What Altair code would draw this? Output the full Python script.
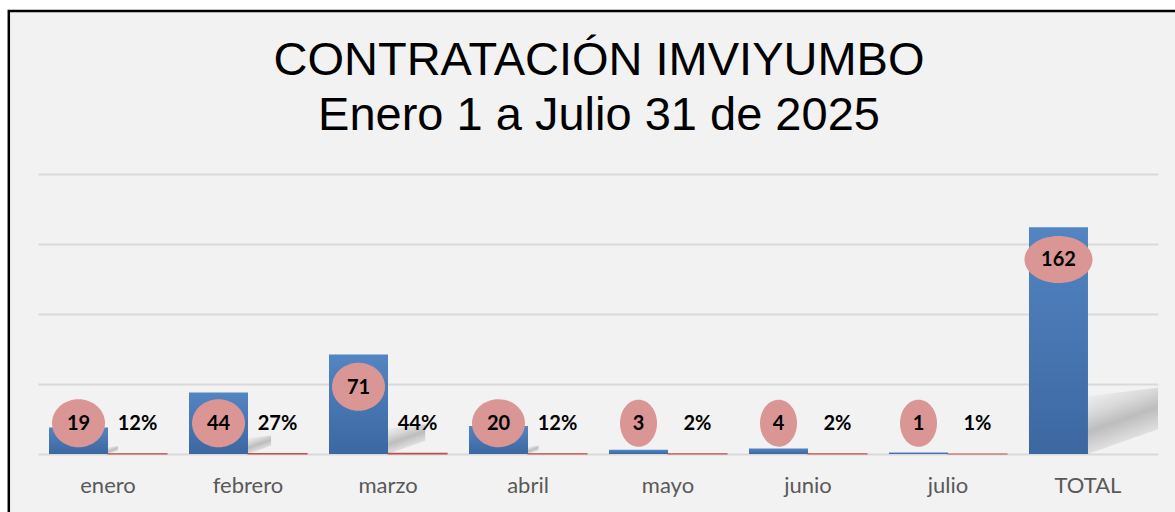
import altair as alt
import pandas as pd

# ---- data ----
categories = ["enero", "febrero", "marzo", "abril", "mayo", "junio", "julio", "TOTAL"]
counts = [19, 44, 71, 20, 3, 4, 1, 162]
pct_categories = ["enero", "febrero", "marzo", "abril", "mayo", "junio", "julio"]
pcts = [0.12, 0.27, 0.44, 0.12, 0.02, 0.02, 0.01]
series = ["Contratos", "Porcentaje"]
title_lines = ["CONTRATACIÓN IMVIYUMBO", "Enero 1 a Julio 31 de 2025"]
grid_values = [0, 50, 100, 150, 200]

# ---- tables ----
rows = [{"cat": c, "serie": series[0], "valor": v, "digits": str(len(str(v)))}
        for c, v in zip(categories, counts)]
rows += [{"cat": c, "serie": series[1], "valor": p, "digits": "0"}
         for c, p in zip(pct_categories, pcts)]
df = pd.DataFrame(rows)

W, H = 1120, 280
PAD = {"left": 38, "top": 174, "right": 17, "bottom": 58}
LABEL_FLOOR = 22  # lowest label centre (data units) used for small bars
HALF_BAR = 29.5   # half of one bar's pixel width


def ellipse(rx, ry):
    return f"M{-rx},0A{rx},{ry} 0 1,1 {rx},0A{rx},{ry} 0 1,1 {-rx},0Z"


def shadow_path(v):
    # perspective drop shadow, scaled with the bar's value
    s = v / max(counts)
    pts = [(HALF_BAR, 0), (HALF_BAR + 85 * s, -30 * s),
           (HALF_BAR + 85 * s, -68 * s), (HALF_BAR, -58 * s)]
    return "M" + "L".join(f"{x:.2f},{y:.2f}" for x, y in pts) + "Z"


shape_scale = alt.Scale(domain=["1", "2", "3"],
                        range=[ellipse(18.5, 23.5), ellipse(26.5, 24), ellipse(34, 23.5)])
shadow_scale = alt.Scale(domain=categories, range=[shadow_path(v) for v in counts])

x_enc = alt.X("cat:N", sort=categories,
              scale=alt.Scale(paddingInner=0.157, paddingOuter=0.0786),
              axis=alt.Axis(title=None, labelAngle=0, domain=False, ticks=False, tickSize=0,
                            labelPadding=38, labelBaseline="alphabetic",
                            labelFont="Lato", labelFontSize=22, labelColor="#595959"))
xoff_enc = alt.XOffset("serie:N", sort=series,
                       scale=alt.Scale(paddingInner=0, paddingOuter=0))
y_scale = alt.Scale(domain=[0, 200], nice=False, zero=True)
y_axis = alt.Axis(title=None, labels=False, ticks=False, domain=False, grid=True,
                  values=grid_values, gridColor="#d9d9d9", gridWidth=2)

base = alt.Chart(df)
counts_only = base.transform_filter(alt.datum.serie == series[0])

blue_grad = alt.Gradient(gradient="linear",
                         stops=[alt.GradientStop(color="#5385c2", offset=0),
                                alt.GradientStop(color="#3c67a1", offset=1)],
                         x1=0, x2=0, y1=0, y2=1)

shadow_grad = alt.Gradient(gradient="linear",
                           stops=[alt.GradientStop(color="rgba(0,0,0,0)", offset=0),
                                  alt.GradientStop(color="rgba(0,0,0,0.10)", offset=0.3),
                                  alt.GradientStop(color="rgba(0,0,0,0.22)", offset=0.55),
                                  alt.GradientStop(color="rgba(0,0,0,0.10)", offset=0.8),
                                  alt.GradientStop(color="rgba(0,0,0,0)", offset=1)],
                           x1=0.3, y1=-0.05, x2=0.7, y2=0.85)

shadows = counts_only.mark_point(filled=True, size=4, opacity=1, color=shadow_grad,
                                 strokeWidth=0, clip=True).encode(
    x=x_enc, xOffset=xoff_enc,
    y=alt.Y(datum=0, scale=y_scale, axis=y_axis),
    shape=alt.Shape("cat:N", scale=shadow_scale, legend=None),
)

bars_count = counts_only.mark_bar(color=blue_grad).encode(
    x=x_enc, xOffset=xoff_enc,
    y=alt.Y("valor:Q", scale=y_scale, axis=y_axis),
)

bars_pct = base.transform_filter(alt.datum.serie == series[1]).mark_bar(
    color="#c0504d", stroke="#c0504d", strokeWidth=1.2).encode(
    x=x_enc, xOffset=xoff_enc,
    y=alt.Y("valor:Q", scale=y_scale, axis=y_axis),
)

lab_base = counts_only.transform_calculate(pos=f"max(datum.valor - 23, {LABEL_FLOOR})")

ellipses = lab_base.mark_point(filled=True, size=4, opacity=1, color="#da9694",
                               strokeWidth=0).encode(
    x=x_enc, xOffset=xoff_enc,
    y=alt.Y("pos:Q", scale=y_scale, axis=y_axis),
    shape=alt.Shape("digits:N", scale=shape_scale, legend=None),
)

count_text = lab_base.mark_text(font="Lato", fontWeight="bold", fontSize=20,
                                color="black", baseline="middle", dy=1).encode(
    x=x_enc, xOffset=xoff_enc,
    y=alt.Y("pos:Q", scale=y_scale, axis=y_axis),
    text=alt.Text("valor:Q", format="d"),
)

pct_text = base.transform_filter(alt.datum.serie == series[1]).mark_text(
    font="Lato", fontWeight="bold", fontSize=20, color="black",
    baseline="middle", dy=1).encode(
    x=x_enc, xOffset=xoff_enc,
    y=alt.Y(datum=LABEL_FLOOR, scale=y_scale, axis=y_axis),
    text=alt.Text("valor:Q", format=".0%"),
)

frame_df = pd.DataFrame({"k": [0]})
white_left = alt.Chart(frame_df).mark_rect(color="white").encode(
    x=alt.value(-PAD["left"] - 2), x2=alt.value(-29.2),
    y=alt.value(-PAD["top"] - 2), y2=alt.value(H + PAD["bottom"] + 2))
white_top = alt.Chart(frame_df).mark_rect(color="white").encode(
    x=alt.value(-PAD["left"] - 2), x2=alt.value(W + PAD["right"] + 2),
    y=alt.value(-PAD["top"] - 2), y2=alt.value(-163))
border = alt.Chart(frame_df).mark_rect(fill="transparent", stroke="black",
                                       strokeWidth=2.5).encode(
    x=alt.value(-29.2), x2=alt.value(W + PAD["right"] + 20),
    y=alt.value(-163), y2=alt.value(H + PAD["bottom"] + 20))

title1 = alt.Chart(frame_df).mark_text(
    text=title_lines[0], font="Liberation Sans", fontSize=47, color="black",
    align="center", baseline="alphabetic").encode(x=alt.value(W / 2 + 1), y=alt.value(-99))
title2 = alt.Chart(frame_df).mark_text(
    text=title_lines[1], font="Liberation Sans", fontSize=47, color="black",
    align="center", baseline="alphabetic").encode(x=alt.value(W / 2 + 1), y=alt.value(-44))

chart = alt.layer(
    shadows, bars_count, bars_pct, ellipses, count_text, pct_text,
    white_left, white_top, border, title1, title2
).resolve_scale(shape="independent").properties(
    width=W, height=H,
    autosize=alt.AutoSizeParams(type="none"),
    padding=PAD,
).configure(background="#f2f2f2").configure_view(stroke=None)

chart.save("out.html", embed_options={"renderer": "svg", "actions": False})
